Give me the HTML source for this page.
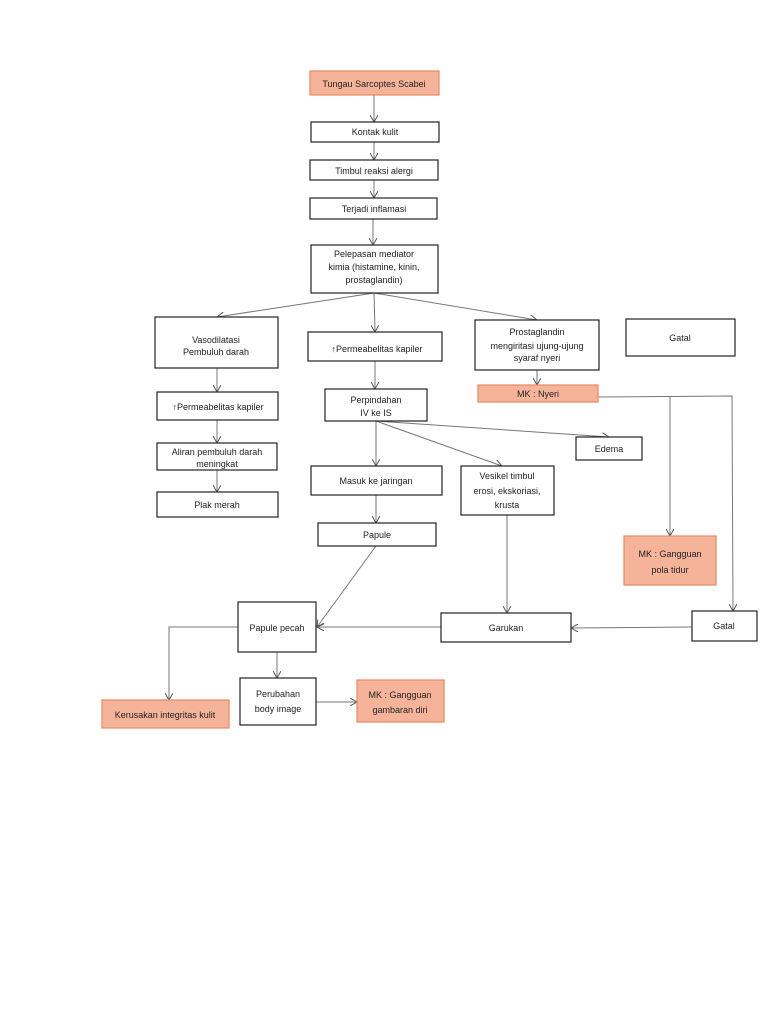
<!DOCTYPE html>
<html><head><meta charset="utf-8"><style>
body{margin:0;background:#fff}
svg{display:block}
text{font-family:"Liberation Sans",sans-serif;font-size:9px;fill:#222;text-anchor:middle}
.b{fill:#fff;stroke:#222;stroke-width:1.2}
.o{fill:#f5b49a;stroke:#e68a5e;stroke-width:1.2}
.l{stroke:#777;stroke-width:1;fill:none}
</style></head><body>
<svg width="768" height="1024" viewBox="0 0 768 1024" xmlns="http://www.w3.org/2000/svg">
<defs><marker id="a" markerWidth="8" markerHeight="8" refX="7" refY="4" orient="auto" markerUnits="userSpaceOnUse"><path d="M0,0 L7,4 L0,8" fill="none" stroke="#555" stroke-width="1"/></marker></defs>
<!-- lines -->
<g class="l">
<line x1="374" y1="95" x2="374" y2="122" marker-end="url(#a)"/>
<line x1="374" y1="142" x2="374" y2="160" marker-end="url(#a)"/>
<line x1="374" y1="180" x2="374" y2="198" marker-end="url(#a)"/>
<line x1="373" y1="219" x2="373" y2="245" marker-end="url(#a)"/>
<line x1="374" y1="293" x2="217" y2="317" marker-end="url(#a)"/>
<line x1="374" y1="293" x2="375" y2="332" marker-end="url(#a)"/>
<line x1="374" y1="293" x2="537" y2="320" marker-end="url(#a)"/>
<line x1="217" y1="368" x2="217" y2="392" marker-end="url(#a)"/>
<line x1="375" y1="361" x2="375" y2="389" marker-end="url(#a)"/>
<line x1="537" y1="370" x2="537" y2="385" marker-end="url(#a)"/>
<line x1="217" y1="420" x2="217" y2="443" marker-end="url(#a)"/>
<line x1="217" y1="470" x2="217" y2="492" marker-end="url(#a)"/>
<line x1="376" y1="421" x2="376" y2="466" marker-end="url(#a)"/>
<line x1="376" y1="421" x2="609" y2="437" marker-end="url(#a)"/>
<line x1="376" y1="421" x2="502" y2="466" marker-end="url(#a)"/>
<line x1="376" y1="495" x2="376" y2="523" marker-end="url(#a)"/>
<line x1="376" y1="546" x2="317" y2="627" marker-end="url(#a)"/>
<line x1="507" y1="515" x2="507" y2="613" marker-end="url(#a)"/>
<line x1="441" y1="627" x2="317" y2="627" marker-end="url(#a)"/>
<line x1="692" y1="627" x2="571" y2="628" marker-end="url(#a)"/>
<polyline points="598,397 732,396 733,611" marker-end="url(#a)"/>
<line x1="670" y1="397" x2="670" y2="536" marker-end="url(#a)"/>
<polyline points="238,627 169,627 169,700" marker-end="url(#a)"/>
<line x1="277" y1="652" x2="277" y2="678" marker-end="url(#a)"/>
<line x1="316" y1="702" x2="357" y2="702" marker-end="url(#a)"/>
</g>
<!-- boxes -->
<rect class="o" x="310" y="71" width="129" height="24"/><text x="374" y="87">Tungau Sarcoptes Scabei</text>
<rect class="b" x="311" y="122" width="128" height="20"/><text x="375" y="135">Kontak kulit</text>
<rect class="b" x="310" y="160" width="128" height="20"/><text x="374" y="174">Timbul reaksi alergi</text>
<rect class="b" x="310" y="198" width="127" height="21"/><text x="374" y="212">Terjadi inflamasi</text>
<rect class="b" x="311" y="245" width="127" height="48"/><text x="374" y="257">Pelepasan mediator</text><text x="374" y="270">kimia (histamine, kinin,</text><text x="374" y="283">prostaglandin)</text>
<rect class="b" x="155" y="317" width="123" height="51"/><text x="216" y="343">Vasodilatasi</text><text x="216" y="355">Pembuluh darah</text>
<rect class="b" x="308" y="332" width="134" height="29"/><text x="377" y="352">↑Permeabelitas kapiler</text>
<rect class="b" x="475" y="320" width="124" height="50"/><text x="537" y="335">Prostaglandin</text><text x="537" y="349">mengiritasi ujung-ujung</text><text x="537" y="361">syaraf nyeri</text>
<rect class="b" x="626" y="319" width="109" height="37"/><text x="680" y="341">Gatal</text>
<rect class="o" x="478" y="385" width="120" height="17"/><text x="538" y="397">MK : Nyeri</text>
<rect class="b" x="157" y="392" width="121" height="28"/><text x="218" y="410">↑Permeabelitas kapiler</text>
<rect class="b" x="325" y="389" width="102" height="32"/><text x="376" y="403">Perpindahan</text><text x="376" y="416">IV ke IS</text>
<rect class="b" x="157" y="443" width="120" height="27"/><text x="217" y="455">Aliran pembuluh darah</text><text x="217" y="467">meningkat</text>
<rect class="b" x="576" y="437" width="66" height="23"/><text x="609" y="452">Edema</text>
<rect class="b" x="311" y="466" width="131" height="29"/><text x="376" y="484">Masuk ke jaringan</text>
<rect class="b" x="461" y="466" width="93" height="49"/><text x="507" y="479">Vesikel timbul</text><text x="507" y="494">erosi, ekskoriasi,</text><text x="507" y="508">krusta</text>
<rect class="b" x="157" y="492" width="121" height="25"/><text x="217" y="508">Plak merah</text>
<rect class="b" x="318" y="523" width="118" height="23"/><text x="377" y="538">Papule</text>
<rect class="o" x="624" y="536" width="92" height="49"/><text x="670" y="557">MK : Gangguan</text><text x="670" y="573">pola tidur</text>
<rect class="b" x="238" y="602" width="78" height="50"/><text x="277" y="631">Papule pecah</text>
<rect class="b" x="441" y="613" width="130" height="29"/><text x="506" y="631">Garukan</text>
<rect class="b" x="692" y="611" width="65" height="30"/><text x="724" y="629">Gatal</text>
<rect class="b" x="240" y="678" width="76" height="47"/><text x="278" y="697">Perubahan</text><text x="278" y="712">body image</text>
<rect class="o" x="357" y="680" width="87" height="42"/><text x="400" y="698">MK : Gangguan</text><text x="400" y="713">gambaran diri</text>
<rect class="o" x="102" y="700" width="127" height="28"/><text x="165" y="718">Kerusakan integritas kulit</text>
</svg>
</body></html>
